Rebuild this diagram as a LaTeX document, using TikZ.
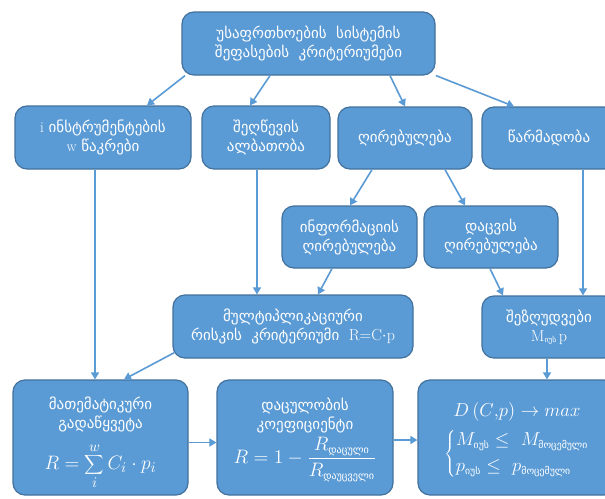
\documentclass[tikz,border=0pt]{standalone}
\usepackage{fontspec}
\usetikzlibrary{arrows.meta,calc}
\newfontfamily\geo{DejaVu Sans}
\definecolor{boxblue}{HTML}{5B9BD5}
\definecolor{boxedge}{HTML}{41719C}
\newcommand{\gsub}[1]{\hbox{\geo\fontsize{7.5}{7.5}\selectfont #1}}
\tikzset{
  box/.style={rounded corners=12pt, fill=boxblue, draw=boxedge, line width=1.2pt,
    text=white, align=center, inner sep=0pt,
    font=\geo\fontsize{15}{19}\selectfont},
  boxtext/.style={text=white, align=center, inner sep=0pt,
    font=\geo\fontsize{15}{19}\selectfont},
  arr/.style={draw=boxblue, line width=1.6pt, -{Triangle[length=7pt,width=8pt]}}
}
\begin{document}
\begin{tikzpicture}[x=1pt,y=-1pt]
\useasboundingbox (0,0) rectangle (605,498);
\fill[white] (0,0) rectangle (605,498);
\node[box, minimum width=253pt, minimum height=63pt] (top) at (308.5,43.5)
  {უსაფრთხოების\ \ სისტემის\\შეფასების\ \ კრიტერიუმები};
\node[box, minimum width=176pt, minimum height=63pt] (A) at (103,137.5)
  {{\rmfamily i} ინსტრუმენტების\\{\rmfamily w} წაკრები};
\node[box, minimum width=128pt, minimum height=63pt] (B) at (266,137.5)
  {შეღწევის\\ალბათობა};
\node[box, minimum width=134pt, minimum height=62pt] (C) at (405,138)
  {ღირებულება};
\node[box, minimum width=134pt, minimum height=62pt] (D) at (549,138)
  {წარმადობა};
\node[box, minimum width=135pt, minimum height=62pt] (E) at (349.5,237)
  {ინფორმაციის\\ღირებულება};
\node[box, minimum width=134pt, minimum height=62pt] (F) at (491,237)
  {დაცვის\\ღირებულება};
\node[box, minimum width=240pt, minimum height=63pt] (G) at (293,326.5)
  {მულტიპლიკაციური\\რისკის\ \ კრიტერიუმი\ \ {\rmfamily\fontsize{16}{19}\selectfont R=C$\cdot$p}};
\node[box, minimum width=134pt, minimum height=62pt] (H) at (549,327)
  {შეზღუდვები\\{\rmfamily\fontsize{16}{19}\selectfont M\raisebox{-1pt}{\gsub{იუს}}\,p}};
\node[box, minimum width=175pt, minimum height=115pt] (I) at (100.5,437.5) {};
\node[box, minimum width=176pt, minimum height=115pt] (J) at (305,437.5) {};
\node[box, minimum width=198pt, minimum height=115pt] (K) at (517,437.5) {};
\node[boxtext] (Itext) at (100.5,443)
  {მათემატიკური\\გადაწყვეტა\\[10pt]
   \scalebox{1.35}{$\displaystyle R=\sum_{i}^{w} C_i\cdot p_i$}};
\node[boxtext] (Jtext) at (305,440)
  {დაცულობის\\კოეფიციენტი\\[3pt]
   \scalebox{1.35}{$\displaystyle R=1-\frac{R_{\gsub{დაცული}}}{R_{\gsub{დაუცველი}}}$}};
\node[boxtext] (Ktext) at (517,441)
  {\scalebox{1.3}{$D\,(C{,}p)\rightarrow max$}\\[6pt]
   \scalebox{1.3}{$\left\{\begin{array}{@{}l@{}}
     M_{\gsub{იუს}}\le\ M_{\gsub{მოცემული}}\\[1pt]
     p_{\gsub{იუს}}\le\ p_{\gsub{მოცემული}}
   \end{array}\right.$}};
% connectors
\draw[arr] (185,0 |- top.south) -- (147,0 |- A.north);
\draw[arr] (270,0 |- top.south) -- (250,0 |- B.north);
\draw[arr] (390,0 |- top.south) -- (405,0 |- C.north);
\draw[arr] (436,0 |- top.south) -- (514,0 |- D.north);
\draw[arr] (372,0 |- C.south) -- (350,0 |- E.north);
\draw[arr] (445,0 |- C.south) -- (465,0 |- F.north);
\draw[arr] (583,0 |- D.south) -- (583,0 |- H.north);
\draw[arr] (490,0 |- F.south) -- (503,0 |- H.north);
\draw[arr] (257,0 |- B.south) -- (257,0 |- G.north);
\draw[arr] (332,0 |- E.south) -- (318,0 |- G.north);
\draw[arr] (95,0 |- A.south) -- (95,0 |- I.north);
\draw[arr] ($(G.south west)+(2,-6)$) -- (124,0 |- I.north);
\draw[arr] ([yshift=-5pt]I.east) -- ([yshift=-5pt]J.west);
\draw[arr] ([yshift=-2.5pt]J.east) -- ([yshift=-2.5pt]K.west);
\draw[arr] (547,0 |- H.south) -- (547,0 |- K.north);
\end{tikzpicture}
\end{document}
